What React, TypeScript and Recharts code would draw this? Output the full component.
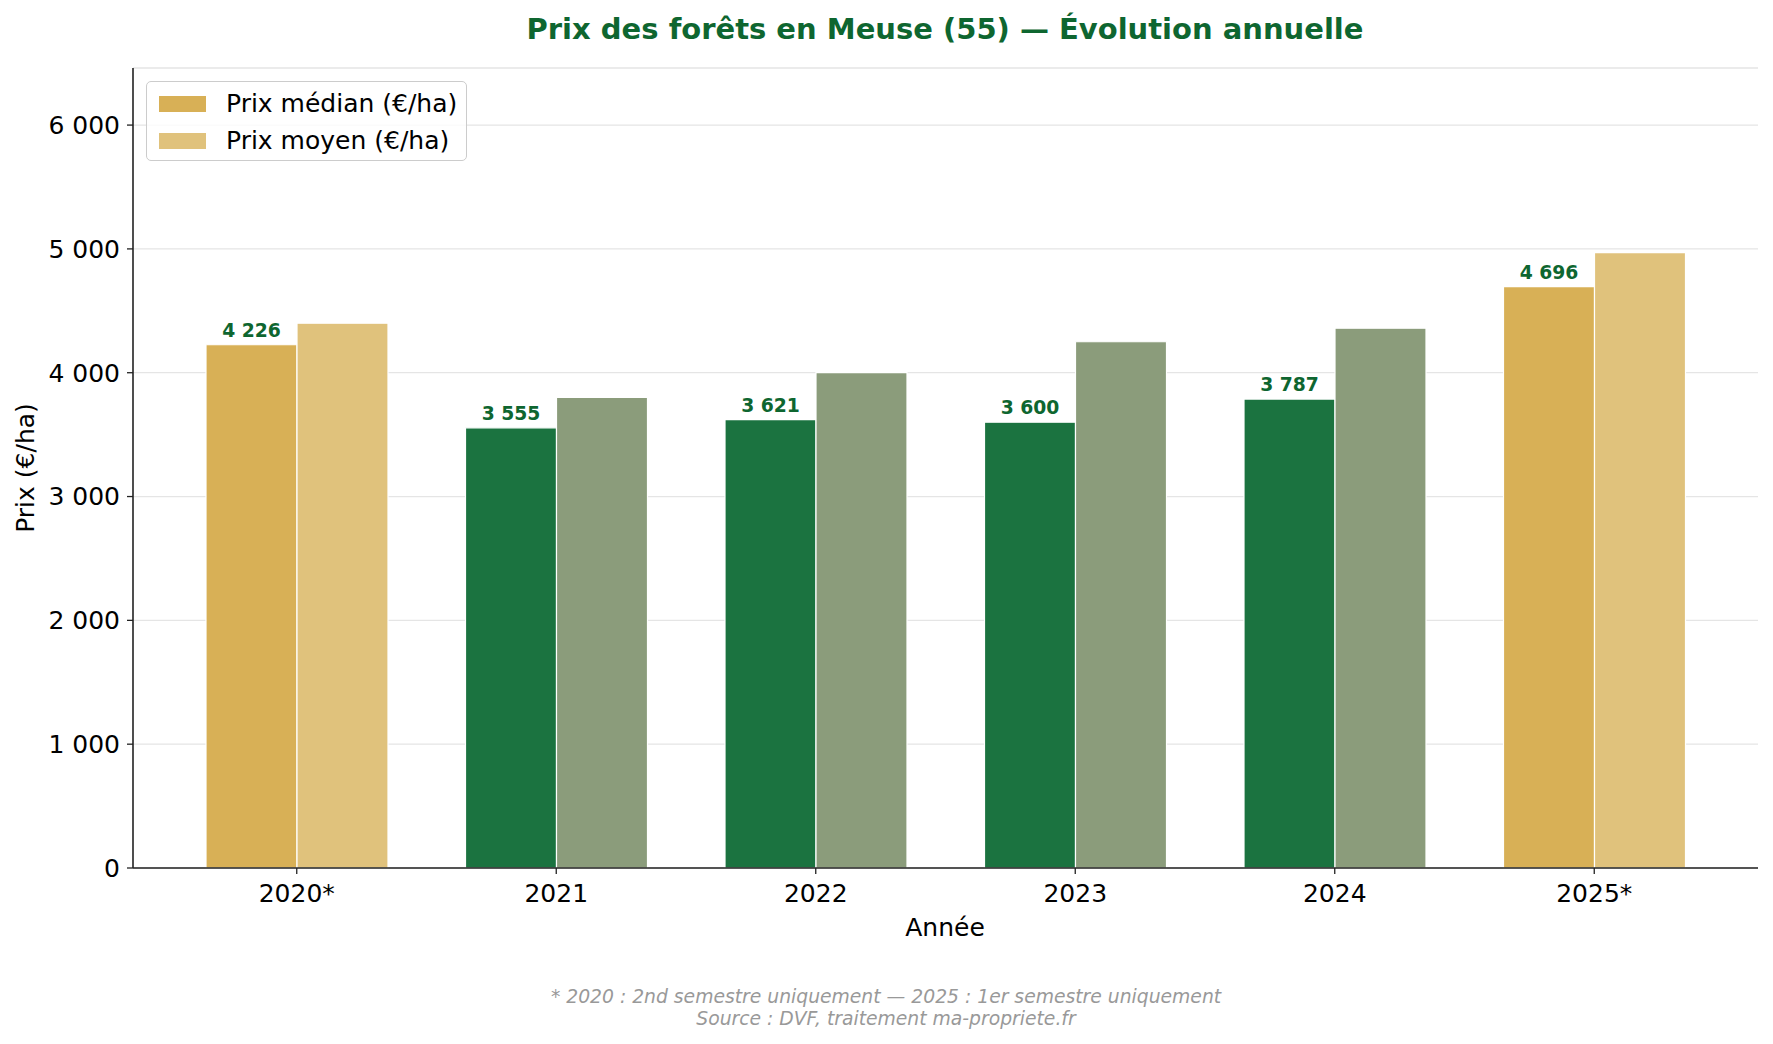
import { BarChart, Bar, XAxis, YAxis, CartesianGrid, Cell, LabelList } from 'recharts';

// Prix des forêts en Meuse (55), €/ha
const years = ['2020*', '2021', '2022', '2023', '2024', '2025*'];
const medianPrices = [4226, 3555, 3621, 3600, 3787, 4696];
const meanPrices = [4400, 3800, 4000, 4250, 4360, 4970];
const yTicks = [0, 1000, 2000, 3000, 4000, 5000, 6000];

const FONT = '"DejaVu Sans", sans-serif';
const GREEN_TEXT = '#0e6630';
const GOLD_MEDIAN = '#d8b056';
const GOLD_MEAN = '#e0c27c';
const GREEN_MEDIAN = '#1b7340';
const GREEN_MEAN = '#8b9c7b';

const fmt = (v: number) => String(Math.round(v)).replace(/\B(?=(\d{3})+(?!\d))/g, ' ');
const isPartial = (year: string) => year.endsWith('*');

const data = years.map((year, i) => ({
  year,
  median: medianPrices[i],
  mean: meanPrices[i],
}));

const legendItems = [
  { label: 'Prix médian (€/ha)', color: GOLD_MEDIAN },
  { label: 'Prix moyen (€/ha)', color: GOLD_MEAN },
];

function LegendBox() {
  return (
    <div
      style={{
        position: 'absolute',
        left: 146,
        top: 81,
        width: 321,
        height: 80,
        boxSizing: 'border-box',
        border: '1.5px solid #cccccc',
        borderRadius: 5,
        background: 'rgba(255,255,255,0.8)',
        padding: '3px 0 0 12px',
        fontFamily: FONT,
        fontSize: 25,
      }}
    >
      {legendItems.map((item) => (
        <div key={item.label} style={{ display: 'flex', alignItems: 'center', height: 37 }}>
          <span style={{ width: 47, height: 16, background: item.color, display: 'inline-block', marginRight: 20 }} />
          <span style={{ color: '#000', whiteSpace: 'nowrap' }}>{item.label}</span>
        </div>
      ))}
    </div>
  );
}

export default function App() {
  return (
    <div style={{ position: 'absolute', left: 0, top: 0, width: 1773, height: 1044, background: '#fff', fontFamily: FONT }}>
      <div
        style={{
          position: 'absolute',
          left: 945,
          top: 29,
          transform: 'translate(-50%, -50%)',
          whiteSpace: 'nowrap',
          fontWeight: 'bold',
          fontSize: 29,
          color: GREEN_TEXT,
        }}
      >
        Prix des forêts en Meuse (55) — Évolution annuelle
      </div>

      <BarChart
        width={1773}
        height={1044}
        data={data}
        margin={{ top: 68, right: 15, bottom: 0, left: 0 }}
        barCategoryGap={39}
        barGap={0}
      >
        <CartesianGrid vertical={false} stroke="#e5e5e5" strokeWidth={1.3} />
        <XAxis
          dataKey="year"
          height={176}
          padding={{ left: 34, right: 34 }}
          tickSize={6}
          tickMargin={10}
          axisLine={{ stroke: '#222', strokeWidth: 1.6 }}
          tickLine={{ stroke: '#222', strokeWidth: 1.3 }}
          tick={{ fontSize: 25, fill: '#000', fontFamily: FONT }}
        />
        <YAxis
          width={133}
          domain={[0, 6461]}
          ticks={yTicks}
          tickFormatter={fmt}
          tickSize={6}
          tickMargin={7}
          axisLine={{ stroke: '#222', strokeWidth: 1.6 }}
          tickLine={{ stroke: '#222', strokeWidth: 1.3 }}
          tick={{ fontSize: 25, fill: '#000', fontFamily: FONT }}
        />
        <Bar dataKey="median" name="Prix médian (€/ha)" stroke="#fff" strokeWidth={1.2} isAnimationActive={false}>
          {data.map((d) => (
            <Cell key={d.year} fill={isPartial(d.year) ? GOLD_MEDIAN : GREEN_MEDIAN} />
          ))}
          <LabelList
            dataKey="median"
            position="top"
            offset={8}
            formatter={(v: any) => fmt(Number(v))}
            style={{ fontSize: 18.75, fontWeight: 'bold', fill: GREEN_TEXT, fontFamily: FONT }}
          />
        </Bar>
        <Bar dataKey="mean" name="Prix moyen (€/ha)" stroke="#fff" strokeWidth={1.2} isAnimationActive={false}>
          {data.map((d) => (
            <Cell key={d.year} fill={isPartial(d.year) ? GOLD_MEAN : GREEN_MEAN} />
          ))}
        </Bar>
      </BarChart>

      <LegendBox />

      <div
        style={{
          position: 'absolute',
          left: 25,
          top: 468,
          transform: 'translate(-50%, -50%) rotate(-90deg)',
          whiteSpace: 'nowrap',
          fontSize: 25,
          color: '#000',
        }}
      >
        Prix (€/ha)
      </div>
      <div
        style={{
          position: 'absolute',
          left: 945,
          top: 927,
          transform: 'translate(-50%, -50%)',
          whiteSpace: 'nowrap',
          fontSize: 25,
          color: '#000',
        }}
      >
        Année
      </div>
      <div
        style={{
          position: 'absolute',
          left: 886,
          top: 1008,
          transform: 'translate(-50%, -50%)',
          whiteSpace: 'nowrap',
          textAlign: 'center',
          fontSize: 18.75,
          fontStyle: 'italic',
          color: '#999999',
          lineHeight: '22px',
        }}
      >
        * 2020 : 2nd semestre uniquement — 2025 : 1er semestre uniquement
        <br />
        Source : DVF, traitement ma-propriete.fr
      </div>
    </div>
  );
}
